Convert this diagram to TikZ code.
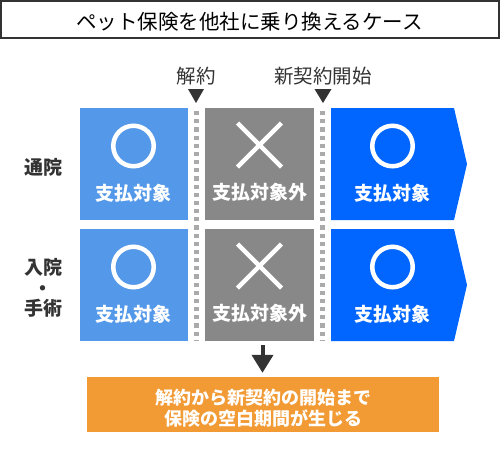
\documentclass[tikz,border=0pt]{standalone}
\usepackage{fontspec}
\setmainfont{Noto Sans CJK JP}
\usetikzlibrary{arrows.meta}
\definecolor{dark}{HTML}{333333}
\definecolor{lblue}{HTML}{5498E9}
\definecolor{dblue}{HTML}{0066FF}
\definecolor{mgray}{HTML}{888888}
\definecolor{sepgray}{HTML}{AAAAAA}
\definecolor{orng}{HTML}{F29A33}
\tikzset{
 card/.style={minimum width=108pt, minimum height=112pt, inner sep=0pt, outer sep=0pt},
 cardtext/.style={text=white, font=\fontsize{19}{22}\selectfont\bfseries, inner sep=0pt},
 okmark/.style={circle, draw=white, line width=4.5pt, minimum size=40.5pt, inner sep=0pt},
 ngmark/.style={draw=white, line width=4.5pt},
 lab/.style={text=dark, font=\fontsize{19.5}{22}\selectfont, inner sep=0pt},
 rowlab/.style={text=dark, font=\fontsize{19}{20.5}\selectfont\bfseries, align=center, inner sep=0pt},
 marker/.style={fill=dark, draw=none},
 sepline/.style={draw=sepgray, line width=5pt, dash pattern=on 4.2pt off 3.97pt},
}
\begin{document}
\begin{tikzpicture}[x=1pt,y=-1pt]
\useasboundingbox (0,0) rectangle (500,451);
% title
\node[draw=dark, line width=2pt, minimum width=497.5pt, minimum height=37pt, inner sep=0pt] (title) at (249.75,19.5) {};
\node[font=\fontsize{20.5}{24}\selectfont, text=black, inner sep=0pt] (titletext) at (249.5,22) {ペット保険を他社に乗り換えるケース};
% labels and markers
\node[lab] (kaiyaku) at (196,76) {解約};
\node[lab] (shinki) at (323,76) {新契約開始};
\coordinate (m1) at (196,89);
\coordinate (m2) at (323,89);
\fill[marker] (m1) ++(-8,0) -- ++(16,0) -- ++(-8,14) -- cycle;
\fill[marker] (m2) ++(-8.5,0) -- ++(17,0) -- ++(-8.5,14) -- cycle;
% row labels
\node[rowlab] (r1) at (43,167) {通院};
\node[rowlab] (r2) at (43,288) {入院\\・\\手術};
% cards
\foreach \i/\yc in {1/164,2/285} {
  \node[card, fill=lblue] (a\i) at (133.5,\yc) {};
  \node[okmark] (ao\i) at (133.5,\yc-18) {};
  \node[cardtext] (at\i) at (133.5,\yc+29) {支払対象};
  \node[card, fill=mgray, minimum width=109pt] (b\i) at (259.5,\yc) {};
  \draw[ngmark] (237.5,\yc-41) -- (281.5,\yc+3);
  \draw[ngmark] (281.5,\yc-41) -- (237.5,\yc+3);
  \node[cardtext] (bt\i) at (259.5,\yc+28) {支払対象外};
  \fill[dblue] (331,\yc-56) -- (454,\yc-56) -- (467,\yc) -- (454,\yc+56) -- (331,\yc+56) -- cycle;
  \node[okmark] (co\i) at (392.5,\yc-18) {};
  \node[cardtext] (ct\i) at (392.5,\yc+29) {支払対象};
}
% separators
\coordinate (s1t) at (196.5,111);
\coordinate (s1b) at (196.5,340);
\coordinate (s2t) at (322,111);
\coordinate (s2b) at (322,340);
\draw[sepline] (s1t) -- (s1b);
\draw[sepline] (s2t) -- (s2b);
% note
\node[fill=orng, minimum width=352pt, minimum height=55pt, inner sep=0pt] (note) at (263,404.5) {};
\node[text=white, font=\fontsize{18}{21}\selectfont\bfseries, align=center, inner sep=0pt] (notetext) at (263,408.5)
      {解約から新契約の開始まで\\保険の空白期間が生じる};
\coordinate (arr) at (262.5,345);
\draw[dark, line width=4pt, -{Triangle[width=21pt,length=18pt]}, shorten >=4pt] (arr) -- (arr |- note.north);
\end{tikzpicture}
\end{document}
